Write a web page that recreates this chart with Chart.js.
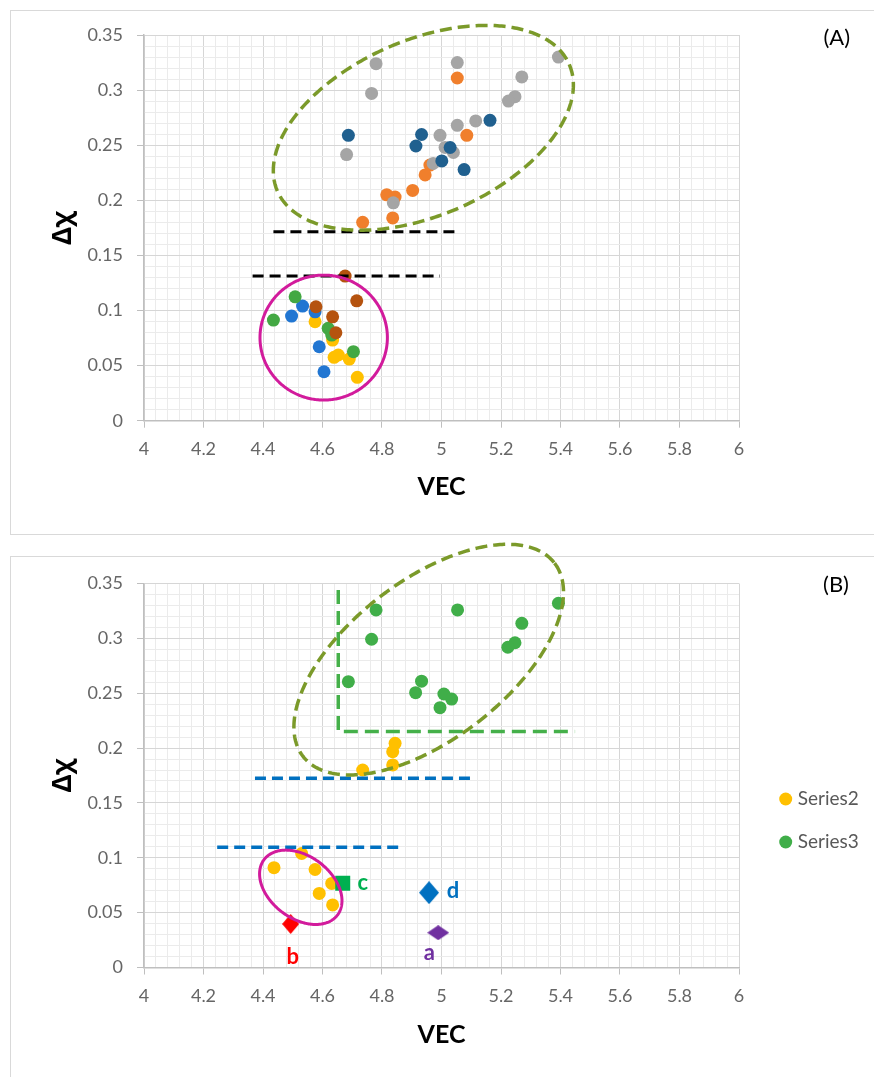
<!DOCTYPE html>
<html>
<head>
<meta charset="utf-8">
<script src="https://cdn.jsdelivr.net/npm/chart.js@4.4.1/dist/chart.umd.min.js"></script>
<style>
  html, body { margin: 0; padding: 0; background: #fff; }
  body { width: 874px; height: 1077px; position: relative; overflow: hidden; }
  .frame { position: absolute; border: 1px solid #d9d9d9; border-right: none; box-sizing: border-box; }
  #frameA { left: 10px; top: 10px; width: 870px; height: 525px; }
  #frameB { left: 10px; top: 556px; width: 870px; height: 540px; }
  canvas { position: absolute; }
  #chartA { left: 10px; top: 10px; }
  #chartB { left: 10px; top: 536px; }
</style>
</head>
<body>
<div class="frame" id="frameA"></div>
<div class="frame" id="frameB"></div>
<canvas id="chartA" width="864" height="524"></canvas>
<canvas id="chartB" width="864" height="541"></canvas>
<script>
// ---------- Panel (A): upper group ----------
const vecOrangeA = [5.053, 5.085, 4.961, 4.945, 4.903, 4.816, 4.844, 4.836, 4.735];
const dxOrangeA  = [0.311, 0.259, 0.232, 0.223, 0.209, 0.205, 0.203, 0.184, 0.180];
const vecGrayA   = [4.780, 4.765, 5.053, 5.393, 5.270, 5.247, 5.225, 5.115, 5.053, 4.995, 4.681, 5.012, 5.040, 4.972, 4.838];
const dxGrayA    = [0.324, 0.297, 0.325, 0.330, 0.312, 0.294, 0.290, 0.272, 0.268, 0.259, 0.2415, 0.248, 0.2434, 0.2334, 0.1977];
const vecNavyA   = [4.687, 4.933, 4.914, 5.029, 5.001, 5.076, 5.163];
const dxNavyA    = [0.259, 0.2597, 0.2493, 0.2479, 0.2357, 0.2279, 0.2726];

// ---------- Panel (A): lower group ----------
const vecYellowA = [4.575, 4.634, 4.639, 4.653, 4.690, 4.717];
const dxYellowA  = [0.0898, 0.0732, 0.0575, 0.0596, 0.0559, 0.0394];
const vecBlueA   = [4.496, 4.533, 4.575, 4.589, 4.605];
const dxBlueA    = [0.0949, 0.104, 0.0988, 0.0671, 0.0444];
const vecGreenA  = [4.435, 4.508, 4.619, 4.704, 4.631];
const dxGreenA   = [0.0913, 0.1124, 0.0838, 0.0626, 0.0777];
const vecBrownA  = [4.676, 4.715, 4.578, 4.634, 4.645];
const dxBrownA   = [0.1312, 0.1088, 0.1034, 0.0943, 0.0798];

// ---------- Panel (A): guide lines and outlines ----------
const cutA1Vec = [4.435, 5.062], cutA1Dx = [0.1714, 0.1714];
const cutA2Vec = [4.365, 4.995], cutA2Dx = [0.1312, 0.1312];
const ovalUpperA = { center: [4.939, 0.2658], u: [0.4904, 0.0575], v: [0.1176, -0.0730] };
const ovalLowerA = { center: [4.604, 0.0754], u: [0.2141, 0], v: [0, 0.0567] };

// ---------- Panel (B) ----------
const vecSeries2 = [4.844, 4.836, 4.836, 4.735, 4.437, 4.530, 4.575, 4.631, 4.589, 4.634];
const dxSeries2  = [0.2043, 0.1967, 0.1846, 0.180, 0.091, 0.1039, 0.0893, 0.0766, 0.0675, 0.057];
const vecSeries3 = [4.780, 4.765, 4.687, 5.054, 5.393, 5.270, 5.247, 5.223, 4.933, 4.913, 5.008, 5.034, 4.995];
const dxSeries3  = [0.3259, 0.2992, 0.2605, 0.3259, 0.3320, 0.3137, 0.2960, 0.2919, 0.2610, 0.2505, 0.2493, 0.2447, 0.2368];
const refNames = ['a', 'b', 'c', 'd'];
const refVec   = [4.989, 4.493, 4.668, 4.958];
const refDx    = [0.0317, 0.0397, 0.0769, 0.0682];
const cornerBVec = [4.653, 4.653, 5.449], cornerBDx = [0.344, 0.2151, 0.2151];
const cutB1Vec = [4.373, 5.113], cutB1Dx = [0.1725, 0.1725];
const cutB2Vec = [4.246, 4.872], cutB2Dx = [0.1096, 0.1096];
const ovalUpperB = { center: [4.957, 0.2806], u: [0.4229, 0.0880], v: [0.1627, -0.0575] };
const ovalLowerB = { center: [4.527, 0.0731], u: [0.1234, -0.02525], v: [-0.0629, -0.0226] };

// ---------- shared styling ----------
const FONT_UI = "Lato, 'Open Sans', sans-serif";
const FONT_GREEK = "'Noto Sans', 'DejaVu Sans', sans-serif";
const TICK_GREY = '#666666';
const GRID_MAJOR = '#d6d6d6';
const GRID_MINOR = '#ebebeb';
const OLIVE = '#7b9a2a';
const MAGENTA = '#d21b9c';

const pts = (xs, ys) => xs.map((x, i) => ({ x, y: ys[i] }));

function dots(label, xs, ys, color, order) {
  return {
    label, data: pts(xs, ys), order,
    backgroundColor: color, borderColor: color,
    pointRadius: 6.5, pointBorderWidth: 0, pointHoverRadius: 6.5,
    pointStyle: 'circle'
  };
}

function dashed(label, xs, ys, color, width, dash) {
  return {
    label, data: pts(xs, ys), order: 0,
    showLine: true, borderColor: color, borderWidth: width, borderDash: dash,
    pointRadius: 0, pointHoverRadius: 0, fill: false, tension: 0
  };
}

function diamond(w, h, color) {
  const c = document.createElement('canvas');
  c.width = w; c.height = h;
  const g = c.getContext('2d');
  g.fillStyle = color;
  g.beginPath();
  g.moveTo(w / 2, 0); g.lineTo(w, h / 2); g.lineTo(w / 2, h); g.lineTo(0, h / 2);
  g.closePath(); g.fill();
  return c;
}

function scalesFor(xAxisHeight, xTitlePad) {
  return {
    x: {
      type: 'linear', min: 4, max: 6,
      ticks: {
        stepSize: 0.04, autoSkip: false, maxRotation: 0, padding: 11,
        color: TICK_GREY, font: { family: FONT_UI, size: 18 },
        callback: (v, i) => (i % 5 === 0 ? String(Math.round(v * 10) / 10) : '')
      },
      grid: {
        color: c => (c.index % 5 === 0 ? GRID_MAJOR : GRID_MINOR),
        lineWidth: 1, tickLength: 7,
        tickColor: c => (c.index % 5 === 0 ? '#bfbfbf' : 'rgba(0,0,0,0)')
      },
      border: { color: '#bfbfbf', width: 1.5 },
      title: {
        display: true, text: 'VEC', color: '#000',
        font: { family: FONT_UI, size: 25, weight: 'bold' },
        padding: { top: 0, bottom: xTitlePad }
      },
      afterFit: s => { s.height = xAxisHeight; }
    },
    y: {
      type: 'linear', min: 0, max: 0.35,
      ticks: {
        stepSize: 0.01, autoSkip: false, padding: 14,
        color: TICK_GREY, font: { family: FONT_UI, size: 18 },
        callback: (v, i) => (i % 5 === 0 ? String(Math.round(v * 100) / 100) : '')
      },
      grid: {
        color: c => (c.index % 5 === 0 ? GRID_MAJOR : GRID_MINOR),
        lineWidth: 1, tickLength: 7,
        tickColor: c => (c.index % 5 === 0 ? '#bfbfbf' : 'rgba(0,0,0,0)')
      },
      border: { color: '#bfbfbf', width: 1.5 },
      title: {
        display: true, text: 'Δχ', color: '#000',
        font: { family: FONT_GREEK, size: 26, weight: 'bold' },
        padding: { top: 38, bottom: 0 }
      },
      afterFit: s => { s.width = 134; }
    }
  };
}

// Outlined ellipses given in data units: centre plus two conjugate half-axes
const ovalPlugin = {
  id: 'ovals',
  afterDatasetsDraw(chart, args, opts) {
    const { ctx, scales: { x, y } } = chart;
    (opts.items || []).forEach(o => {
      ctx.save();
      ctx.strokeStyle = o.color;
      ctx.lineWidth = o.width;
      ctx.setLineDash(o.dash || []);
      ctx.beginPath();
      const n = 360;
      for (let k = 0; k <= n; k++) {
        const t = (2 * Math.PI * k) / n;
        const vx = o.shape.center[0] + Math.cos(t) * o.shape.u[0] + Math.sin(t) * o.shape.v[0];
        const vy = o.shape.center[1] + Math.cos(t) * o.shape.u[1] + Math.sin(t) * o.shape.v[1];
        const px = x.getPixelForValue(vx), py = y.getPixelForValue(vy);
        if (k === 0) ctx.moveTo(px, py); else ctx.lineTo(px, py);
      }
      ctx.closePath();
      ctx.stroke();
      ctx.restore();
    });
  }
};

// Text notes: either fixed canvas positions or attached to a dataset's first point
const notePlugin = {
  id: 'notes',
  afterDraw(chart, args, opts) {
    const ctx = chart.ctx;
    (opts.items || []).forEach(n => {
      let px = n.x, py = n.y;
      if (n.dataset !== undefined) {
        const el = chart.getDatasetMeta(n.dataset).data[0];
        px = el.x + n.dx; py = el.y + n.dy;
      }
      ctx.save();
      ctx.font = n.font;
      ctx.fillStyle = n.color;
      ctx.textAlign = 'center';
      ctx.textBaseline = 'middle';
      ctx.fillText(n.text, px, py);
      ctx.restore();
    });
  }
};

// Places the legend so its first marker sits at the given canvas point
const legendAt = {
  id: 'legendAt',
  afterLayout(chart, args, o) {
    const lg = chart.legend;
    if (!o.point || !lg || !lg.columnSizes || !lg.columnSizes.length) return;
    const lab = lg.options.labels;
    const pad = lab.padding, bw = lab.boxWidth, fs = lab.font.size;
    const colH = lg.columnSizes[0].height;
    lg.left = o.point[0] - bw / 2 - pad;
    lg.right = lg.left + lg.width;
    lg.top = o.point[1] - fs / 2 - pad;
    lg.bottom = lg.top + pad + colH;
  }
};

Chart.register(ovalPlugin, notePlugin, legendAt);

// ---------- Chart (A) ----------
new Chart(document.getElementById('chartA'), {
  type: 'scatter',
  data: {
    datasets: [
      dashed('cut upper', cutA1Vec, cutA1Dx, '#000000', 3, [11, 6]),
      dashed('cut lower', cutA2Vec, cutA2Dx, '#000000', 3, [11, 6]),
      dots('brown', vecBrownA, dxBrownA, '#b5530f', 1),
      dots('green', vecGreenA, dxGreenA, '#43a843', 2),
      dots('blue', vecBlueA, dxBlueA, '#2176d2', 3),
      dots('yellow', vecYellowA, dxYellowA, '#ffc000', 4),
      dots('navy', vecNavyA, dxNavyA, '#20608f', 5),
      dots('grey', vecGrayA, dxGrayA, '#a5a5a5', 6),
      dots('orange', vecOrangeA, dxOrangeA, '#f07f2c', 7)
    ]
  },
  options: {
    responsive: false, animation: false, devicePixelRatio: 1, events: [],
    layout: { padding: { left: 0, top: 25, right: 135, bottom: 0 } },
    scales: scalesFor(113.3, 32),
    plugins: {
      legend: { display: false },
      tooltip: { enabled: false },
      ovals: {
        items: [
          { shape: ovalUpperA, color: OLIVE, width: 3.5, dash: [12, 6] },
          { shape: ovalLowerA, color: MAGENTA, width: 3, dash: [] }
        ]
      },
      notes: {
        items: [{ text: '(A)', x: 826.7, y: 28, font: `22px ${FONT_UI}`, color: '#000' }]
      }
    }
  }
});

// ---------- Chart (B) ----------
const refStyle = {
  a: { point: diamond(22, 15, '#7030a0'), radius: 11, color: '#7030a0', dx: -9, dy: 20 },
  b: { point: diamond(17, 20, '#ff0000'), radius: 10, color: '#ff0000', dx: 2, dy: 33 },
  c: { point: 'rect', radius: 10.6, color: '#00b050', dx: 20, dy: 0 },
  d: { point: diamond(20, 23, '#0070c0'), radius: 11.5, color: '#0070c0', dx: 24, dy: -2 }
};

const refSets = refNames.map((name, i) => ({
  label: name, data: [{ x: refVec[i], y: refDx[i] }], order: -1,
  pointStyle: refStyle[name].point, pointRadius: refStyle[name].radius,
  backgroundColor: refStyle[name].color, borderColor: refStyle[name].color, pointBorderWidth: 0
}));

const firstRef = 5; // index of the first a–d dataset below
new Chart(document.getElementById('chartB'), {
  type: 'scatter',
  data: {
    datasets: [
      dots('Series2', vecSeries2, dxSeries2, '#ffc000', 11),
      dots('Series3', vecSeries3, dxSeries3, '#40ae49', 12),
      dashed('corner', cornerBVec, cornerBDx, '#45b04a', 3.5, [14, 7]),
      dashed('cut upper', cutB1Vec, cutB1Dx, '#0070c0', 3.5, [11, 6]),
      dashed('cut lower', cutB2Vec, cutB2Dx, '#0070c0', 3.5, [11, 6]),
      ...refSets
    ]
  },
  options: {
    responsive: false, animation: false, devicePixelRatio: 1, events: [],
    layout: { padding: { left: 0, top: 47.5, right: 135, bottom: 0 } },
    scales: scalesFor(109.5, 27),
    plugins: {
      legend: {
        display: true, position: 'chartArea',
        labels: {
          usePointStyle: true, boxWidth: 5, boxHeight: 9.2, padding: 24,
          color: '#595959', font: { family: FONT_UI, size: 19 },
          filter: item => item.text === 'Series2' || item.text === 'Series3'
        }
      },
      legendAt: { point: [775.7, 263] },
      tooltip: { enabled: false },
      ovals: {
        items: [
          { shape: ovalUpperB, color: OLIVE, width: 3.5, dash: [12, 6] },
          { shape: ovalLowerB, color: MAGENTA, width: 3, dash: [] }
        ]
      },
      notes: {
        items: [
          { text: '(B)', x: 826, y: 49, font: `22px ${FONT_UI}`, color: '#000' },
          ...refNames.map((name, i) => ({
            text: name, dataset: firstRef + i, dx: refStyle[name].dx, dy: refStyle[name].dy,
            font: `bold 22px ${FONT_UI}`, color: refStyle[name].color
          }))
        ]
      }
    }
  }
});
</script>
</body>
</html>
